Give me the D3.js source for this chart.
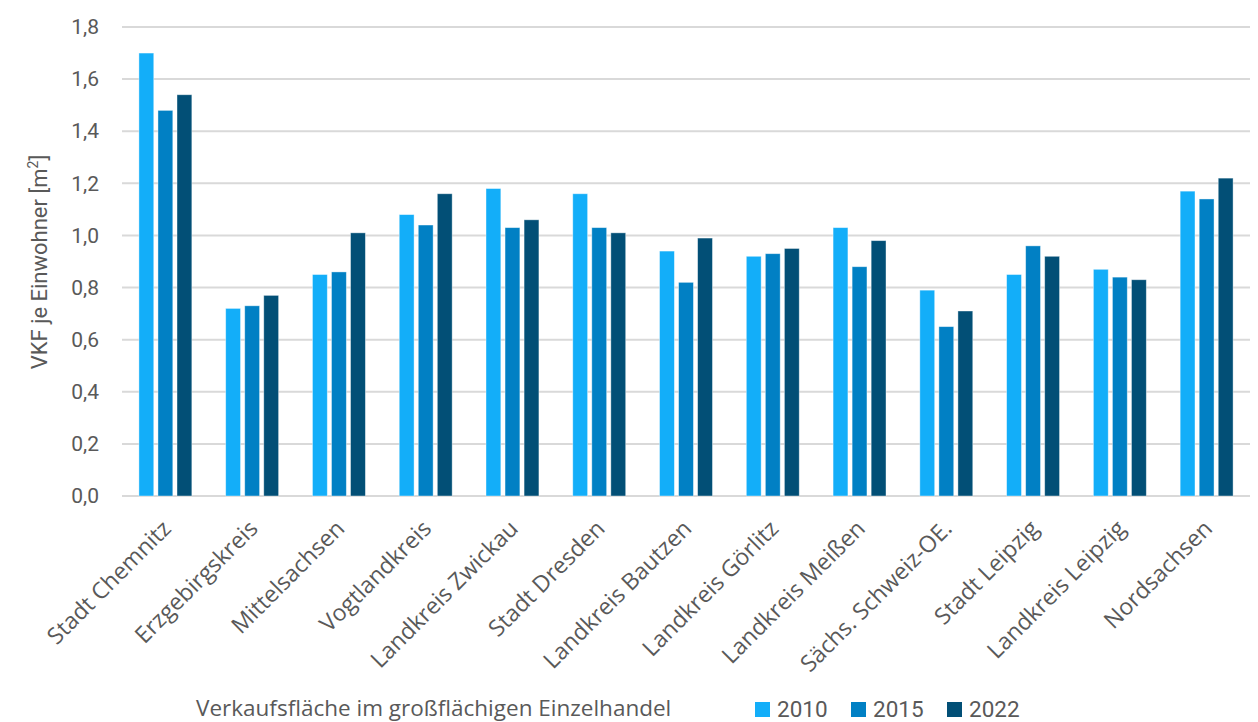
<!DOCTYPE html>
<html lang="de">
<head>
<meta charset="utf-8">
<title>VKF je Einwohner</title>
<script src="https://cdn.jsdelivr.net/npm/d3@7/dist/d3.min.js"></script>
<style>
  body { margin: 0; background: #fff; }
  .tick text { fill: #595959; }
</style>
</head>
<body>
<div id="chart"></div>
<script>
// Daten
var categories = ['Stadt Chemnitz', 'Erzgebirgskreis', 'Mittelsachsen', 'Vogtlandkreis',
  'Landkreis Zwickau', 'Stadt Dresden', 'Landkreis Bautzen', 'Landkreis Görlitz',
  'Landkreis Meißen', 'Sächs. Schweiz-OE.', 'Stadt Leipzig', 'Landkreis Leipzig', 'Nordsachsen'];
var years = ['2010', '2015', '2022'];
var v2010 = [1.70, 0.72, 0.85, 1.08, 1.18, 1.16, 0.94, 0.92, 1.03, 0.79, 0.85, 0.87, 1.17];
var v2015 = [1.48, 0.73, 0.86, 1.04, 1.03, 1.03, 0.82, 0.93, 0.88, 0.65, 0.96, 0.84, 1.14];
var v2022 = [1.54, 0.77, 1.01, 1.16, 1.06, 1.01, 0.99, 0.95, 0.98, 0.71, 0.92, 0.83, 1.22];
var yTicks = [0, 0.2, 0.4, 0.6, 0.8, 1.0, 1.2, 1.4, 1.6, 1.8];
var colors = ['#13aef9', '#0180c4', '#024f76'];

var series = [v2010, v2015, v2022];
var width = 1258, height = 722;
var mLeft = 122, mRight = 1250, mTop = 27, mBottom = 496;

var svg = d3.select('#chart').append('svg')
  .attr('width', width)
  .attr('height', height);

var x0 = d3.scaleBand().domain(categories).range([mLeft, mRight])
  .paddingInner(0.39).paddingOuter(0.195);
var x1 = d3.scaleBand().domain(years).range([0, x0.bandwidth()])
  .paddingInner(0.22).paddingOuter(0);
var y = d3.scaleLinear().domain([0, 1.8]).range([mBottom, mTop]);

var fmt = function(d) { return d3.format('.1f')(d).replace('.', ','); };

// Gitterlinien
svg.append('g')
  .selectAll('line')
  .data(yTicks)
  .enter()
  .append('line')
  .attr('x1', mLeft).attr('x2', mRight)
  .attr('y1', function(d) { return y(d); })
  .attr('y2', function(d) { return y(d); })
  .attr('stroke', '#d9d9d9')
  .attr('stroke-width', 2);

// Y-Achse
var yAxis = svg.append('g')
  .attr('transform', 'translate(99,0)')
  .call(d3.axisLeft(y).tickValues(yTicks).tickFormat(fmt).tickSize(0).tickPadding(0));
yAxis.select('.domain').remove();
yAxis.selectAll('text')
  .attr('font-family', 'Roboto, sans-serif')
  .attr('font-size', 21);

// Balken
var groups = svg.append('g').selectAll('g')
  .data(categories)
  .enter()
  .append('g')
  .attr('transform', function(d) { return 'translate(' + x0(d) + ',0)'; });

groups.selectAll('rect')
  .data(function(d, i) { return years.map(function(yr, j) { return { year: yr, value: series[j][i], k: j }; }); })
  .enter()
  .append('rect')
  .attr('x', function(d) { return x1(d.year); })
  .attr('y', function(d) { return y(d.value); })
  .attr('width', x1.bandwidth())
  .attr('height', function(d) { return y(0) - y(d.value); })
  .attr('fill', function(d) { return colors[d.k]; })
  .attr('stroke', '#ffffff')
  .attr('stroke-opacity', 0.5)
  .attr('stroke-width', 0.8);

// X-Achse
var xAxis = svg.append('g')
  .attr('transform', 'translate(0,' + mBottom + ')')
  .call(d3.axisBottom(x0).tickSize(0).tickPadding(0));
xAxis.select('.domain').remove();
xAxis.selectAll('text')
  .attr('font-family', '"Open Sans", sans-serif')
  .attr('font-size', 23)
  .attr('text-anchor', 'end')
  .attr('dy', 0)
  .attr('transform', 'translate(7,34) rotate(-45)');

// Achsentitel
svg.append('text')
  .attr('transform', 'translate(47,262) rotate(-90)')
  .attr('text-anchor', 'middle')
  .attr('font-family', 'Roboto, sans-serif')
  .attr('font-size', 22)
  .attr('fill', '#595959')
  .html('VKF je Einwohner [m<tspan dy="-9" font-size="14">2</tspan><tspan dy="9">]</tspan>');

// Legende
svg.append('text')
  .attr('x', 196).attr('y', 716)
  .attr('font-family', '"Open Sans", sans-serif')
  .attr('font-size', 22.5)
  .attr('fill', '#595959')
  .text('Verkaufsfläche im großflächigen Einzelhandel');

var legend = svg.append('g').selectAll('g')
  .data(years)
  .enter()
  .append('g')
  .attr('transform', function(d, i) { return 'translate(' + (755 + i * 96) + ',0)'; });
legend.append('rect')
  .attr('x', 0).attr('y', 702)
  .attr('width', 15).attr('height', 15)
  .attr('fill', function(d, i) { return colors[i]; });
legend.append('text')
  .attr('x', 22).attr('y', 717)
  .attr('font-family', 'Roboto, sans-serif')
  .attr('font-size', 22.5)
  .attr('fill', '#595959')
  .text(function(d) { return d; });
</script>
</body>
</html>
